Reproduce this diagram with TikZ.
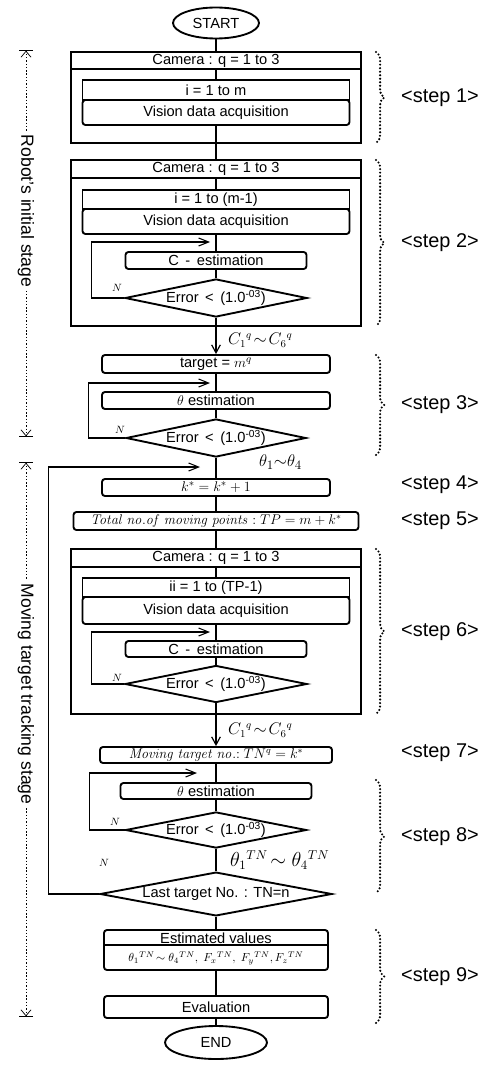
\documentclass[tikz,border=0pt]{standalone}
\usepackage[no-math]{fontspec}
\setmainfont{Liberation Sans}
\usetikzlibrary{shapes.geometric,arrows.meta,decorations.pathreplacing}

\def\pxl{0.3mm}
\def\mx{216}

\begin{document}
\begin{tikzpicture}[x=\pxl, y=-\pxl,
    every node/.style={font=\fontsize{12.5}{14}\selectfont, inner sep=0pt},
    wd/.style={minimum width=#1*\pxl},
    ht/.style={minimum height=#1*\pxl},
    frame/.style={draw, line width=1.6pt, fill=white},
    box/.style={draw, line width=1.6pt},
    rbox/.style={draw, line width=1.6pt, rounded corners=2.5pt},
    dec/.style={diamond, draw, line width=1.6pt, aspect=4.8},
    term/.style={ellipse, draw, line width=1.6pt},
    link/.style={line width=1pt},
    flow/.style={line width=1pt, -{Straight Barb[length=2.4mm, width=2.6mm]}},
    back/.style={line width=0.9pt, -{Straight Barb[length=3mm, width=2.4mm]}},
    mlab/.style={anchor=west, font=\fontsize{13.5}{15}\selectfont},
    nlab/.style={font=\fontsize{9}{10}\selectfont},
    steplab/.style={font=\fontsize{17}{20}\selectfont},
    stagelab/.style={font=\fontsize{15}{17}\selectfont, rotate=-90, inner sep=3pt},
    stageline/.style={line width=0.6pt, dash pattern=on 1.2pt off 1.6pt},
    curly/.style={decorate, decoration={brace, amplitude=7pt}, line width=2pt,
        dash pattern=on 0pt off 3pt, line cap=round}
  ]
  \useasboundingbox (0,0) rectangle (498,1066);

  % step 1
  \node[term, wd=86, ht=31] (start) at (\mx,23) {START};
  \node[frame, wd=290, ht=91] (f1) at (\mx,97.5) {};
  \node[box, wd=290, ht=17, anchor=north] (cam1) at (f1.north) {Camera : q = 1 to 3};
  \node[box, wd=267, ht=20] (i1) at (\mx,90) {i = 1 to m};
  \node[rbox, wd=267, ht=25] (vis1) at (\mx,112.5) {Vision data acquisition};

  % step 2
  \node[frame, wd=290, ht=166] (f2) at (\mx,243) {};
  \node[box, wd=290, ht=18, anchor=north] (cam2) at (f2.north) {Camera : q = 1 to 3};
  \node[box, wd=267, ht=19] (i2) at (\mx,199.5) {i = 1 to (m-1)};
  \node[rbox, wd=267, ht=25] (vis2) at (\mx,221.5) {Vision data acquisition};
  \coordinate (j2) at (210,242);
  \node[rbox, wd=181, ht=17] (cest2) at (\mx,260.5) {C \,-\, estimation};
  \node[dec, wd=182, ht=38] (err2) at (\mx,298) {Error \,<\, (1.0\textsuperscript{-03})};
  \node[nlab] (n2) at (117,288) {$N$};
  \node[mlab] (c2) at (228,340) {$C_1{}^q\!\sim\! C_6{}^q$};

  % step 3
  \node[rbox, wd=228, ht=18] (target) at (\mx,364) {target = $m^q$};
  \coordinate (j3) at (210,383);
  \node[rbox, wd=228, ht=17] (th3) at (\mx,400.5) {$\theta$ estimation};
  \node[dec, wd=180, ht=38] (err3) at (\mx,438) {Error \,<\, (1.0\textsuperscript{-03})};
  \node[nlab] (n3) at (120,430) {$N$};
  \node[mlab, font=\fontsize{15}{17}\selectfont] (th14) at (259,462) {$\theta_1{\sim}\theta_4$};

  % step 4, 5
  \coordinate (j4) at (200,467);
  \node[rbox, wd=228, ht=17] (ks) at (\mx,487.5) {$k^* = k^* + 1$};
  \node[rbox, wd=285, ht=18, font=\fontsize{11.5}{13}\selectfont] (tp) at (\mx,521)
    {$\mathit{Total\ no.of\ moving\ points} : TP = m + k^*$};

  % step 6
  \node[frame, wd=290, ht=165] (f6) at (\mx,631.5) {};
  \node[box, wd=290, ht=18, anchor=north] (cam6) at (f6.north) {Camera : q = 1 to 3};
  \node[box, wd=267, ht=19] (ii6) at (\mx,587.5) {ii = 1 to (TP-1)};
  \node[rbox, wd=267, ht=27] (vis6) at (\mx,610.5) {Vision data acquisition};
  \coordinate (j6) at (210,632);
  \node[rbox, wd=181, ht=16] (cest6) at (\mx,649) {C \,-\, estimation};
  \node[dec, wd=182, ht=37] (err6) at (\mx,684) {Error \,<\, (1.0\textsuperscript{-03})};
  \node[nlab] (n6) at (117,678) {$N$};
  \node[mlab] (c6) at (228,730) {$C_1{}^q\!\sim\! C_6{}^q$};

  % step 7, 8
  \node[rbox, wd=232, ht=16, font=\fontsize{11.5}{13}\selectfont] (mt7) at (\mx,755)
    {$\mathit{Moving\ target\ no.}{:}\ TN^q = k^*$};
  \coordinate (j8) at (197,773);
  \node[rbox, wd=191, ht=16] (th8) at (\mx,791) {$\theta$ estimation};
  \node[dec, wd=181, ht=36] (err8) at (\mx,830) {Error \,<\, (1.0\textsuperscript{-03})};
  \node[nlab] (n8) at (115,822) {$N$};
  \node[mlab, font=\fontsize{16}{18}\selectfont] (thtn) at (230,860)
    {$\theta_1{}^{TN}\!\sim\theta_4{}^{TN}$};
  \node[dec, wd=232, ht=38] (last) at (\mx,894) {Last target No. : TN=n};
  \node[nlab] (nl) at (104,863) {$N$};

  % step 9
  \node[rbox, wd=224, ht=40] (est) at (\mx,950) {};
  \node (esth) at (\mx,938) {Estimated values};
  \node[font=\fontsize{10}{12}\selectfont] (estv) at (\mx,958)
    {$\theta_1{}^{TN}\!\sim\theta_4{}^{TN},\ F_x{}^{TN},\ F_y{}^{TN}, F_z{}^{TN}$};
  \draw[line width=1pt] ([yshift=-16*\pxl]est.north west) -- ([yshift=-16*\pxl]est.north east);
  \node[rbox, wd=224, ht=22] (eval) at (\mx,1007) {Evaluation};
  \node[term, wd=102, ht=33] (finish) at (\mx,1042.5) {END};

  % main flow
  \draw[link] (start) -- (cam1);
  \draw[link] (cam1) -- (i1);
  \draw[link] (vis1) -- (cam2);
  \draw[link] (cam2) -- (i2);
  \draw[link] (vis2) -- (cest2);
  \draw[link] (cest2) -- (err2);
  \draw[flow] (err2) -- (target);
  \draw[link] (target) -- (th3);
  \draw[link] (th3) -- (err3);
  \draw[link] (err3) -- (ks);
  \draw[link] (ks) -- (tp);
  \draw[link] (tp) -- (cam6);
  \draw[link] (cam6) -- (ii6);
  \draw[link] (vis6) -- (cest6);
  \draw[link] (cest6) -- (err6);
  \draw[flow] (err6) -- (mt7);
  \draw[link] (mt7) -- (th8);
  \draw[link] (th8) -- (err8);
  \draw[link] (err8) -- (last);
  \draw[link] (last) -- (est);
  \draw[link] (est) -- (eval);
  \draw[link] (eval) -- (finish);

  % loops back
  \draw[back] (err2.west) -- ++(-33,0) |- (j2);
  \draw[back] (err3.west) -- ++(-37,0) |- (j3);
  \draw[back] (err6.west) -- ++(-33,0) |- (j6);
  \draw[back] (err8.west) -- ++(-35,0) |- (j8);
  \draw[back] (last.west) -- ++(-51,0) |- (j4);

  % steps
  \foreach \a/\b/\s in {52/143/1, 160/326/2, 355/455/3, 549/714/6, 780/893/8, 930/1023/9} {
    \draw[curly] (376,\a) -- (376,\b);
    \node[steplab] (step\s) at (440,{(\a+\b)/2}) {<step \s>};
  }
  \foreach \y/\s in {485/4, 521/5, 753/7}
    \node[steplab] (step\s) at (440,\y) {<step \s>};

  % stages
  \coordinate (s1a) at (26,50);
  \coordinate (s1b) at (26,437);
  \coordinate (s2a) at (26,462);
  \coordinate (s2b) at (26,1017);
  \node[stagelab] (stage1) at (26,211) {Robot’s initial stage};
  \node[stagelab] (stage2) at (26,694) {Moving target tracking stage};
  \draw[stageline, {Bar[width=4.2mm]Straight Barb[length=1.8mm, width=3mm]}-] (s1a) -- (stage1.west);
  \draw[stageline, -{Straight Barb[length=1.8mm, width=3mm]Bar[width=4.2mm]}] (stage1.east) -- (s1b);
  \draw[stageline, {Bar[width=4.2mm]Straight Barb[length=1.8mm, width=3mm]}-] (s2a) -- (stage2.west);
  \draw[stageline, -{Straight Barb[length=1.8mm, width=3mm]Bar[width=4.2mm]}] (stage2.east) -- (s2b);
\end{tikzpicture}
\end{document}
